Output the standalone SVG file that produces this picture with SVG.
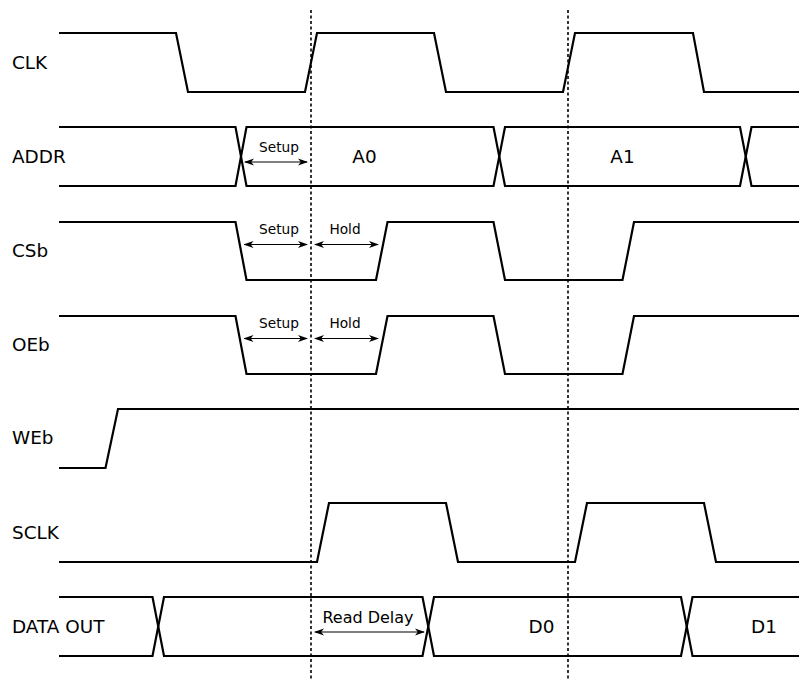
<svg xmlns="http://www.w3.org/2000/svg" width="799" height="682" viewBox="0 0 799 682">
<defs>
<style>
.sig{fill:none;stroke:#000;stroke-width:2.2;stroke-linejoin:miter}
.dash{fill:none;stroke:#000;stroke-width:1.6;stroke-dasharray:3,2.5}
.arr{fill:none;stroke:#000;stroke-width:1.2;marker-start:url(#ah);marker-end:url(#ah)}
.lbl{font-family:"DejaVu Sans",sans-serif;font-size:18.4px;fill:#000}
.val{font-family:"DejaVu Sans",sans-serif;font-size:18.4px;fill:#000;text-anchor:middle}
.sm{font-family:"DejaVu Sans",sans-serif;font-size:13.7px;fill:#000;text-anchor:middle}
.md{font-family:"DejaVu Sans",sans-serif;font-size:16px;fill:#000;text-anchor:middle}
</style>
<marker id="ah" markerWidth="10" markerHeight="8" refX="9" refY="4" orient="auto-start-reverse" markerUnits="userSpaceOnUse">
<path d="M0,0.5 L10,4 L0,7.5 L2.8,4 z" fill="#000"/>
</marker>
</defs>
<rect width="799" height="682" fill="#fff"/>
<g id="connectors">
<line class="dash" x1="311" y1="10" x2="311" y2="680"/>
<line class="dash" x1="568" y1="10" x2="568" y2="680"/>
</g>
<g id="CLK">
<text class="lbl" x="12" y="69">CLK</text>
<path class="sig" d="M59,33 H176 L188,92 H305 L317,33 H434 L446,92 H563 L575,33 H693 L704,92 H799"/>
</g>
<g id="ADDR">
<text class="lbl" x="12" y="163">ADDR</text>
<path class="sig" d="M59,127 H235.5 L246.5,186 H493.5 L505,127 H740 L751.5,186 H799"/>
<path class="sig" d="M59,186 H235.5 L246.5,127 H493.5 L505,186 H740 L751.5,127 H799"/>
<line class="arr" x1="245" y1="162" x2="307" y2="162"/>
<text class="sm" x="279" y="152">Setup</text>
<text class="val" x="364.5" y="163">A0</text>
<text class="val" x="622.5" y="163">A1</text>
</g>
<g id="CSb">
<text class="lbl" x="12" y="257">CSb</text>
<path class="sig" d="M59,222 H235.5 L246.5,280 H376 L387.5,222 H493.5 L505,280 H622.5 L634,222 H799"/>
<line class="arr" x1="244.5" y1="244.5" x2="307" y2="244.5"/>
<line class="arr" x1="315" y1="244.5" x2="378" y2="244.5"/>
<text class="sm" x="279" y="233.5">Setup</text>
<text class="sm" x="345" y="233.5">Hold</text>
</g>
<g id="OEb">
<text class="lbl" x="12" y="351">OEb</text>
<path class="sig" d="M59,316 H235.5 L246.5,374 H376 L387.5,316 H493.5 L505,374 H622.5 L634,316 H799"/>
<line class="arr" x1="244.5" y1="338.5" x2="307" y2="338.5"/>
<line class="arr" x1="315" y1="338.5" x2="378" y2="338.5"/>
<text class="sm" x="279" y="327.5">Setup</text>
<text class="sm" x="345" y="327.5">Hold</text>
</g>
<g id="WEb">
<text class="lbl" x="12" y="444">WEb</text>
<path class="sig" d="M59,468 H105.5 L118,409 H799"/>
</g>
<g id="SCLK">
<text class="lbl" x="12" y="538.5">SCLK</text>
<path class="sig" d="M59,562 H317 L329,503 H446 L458,562 H575 L587,503 H704 L716,562 H799"/>
</g>
<g id="DATA_OUT">
<text class="lbl" x="12" y="632.5">DATA OUT</text>
<path class="sig" d="M59,597 H152.5 L164,656 H422.5 L434,597 H681 L692.5,656 H799"/>
<path class="sig" d="M59,656 H152.5 L164,597 H422.5 L434,656 H681 L692.5,597 H799"/>
<line class="arr" x1="315" y1="632" x2="424" y2="632"/>
<text class="md" x="368" y="623">Read Delay</text>
<text class="val" x="541.5" y="633">D0</text>
<text class="val" x="764" y="633">D1</text>
</g>
</svg>
